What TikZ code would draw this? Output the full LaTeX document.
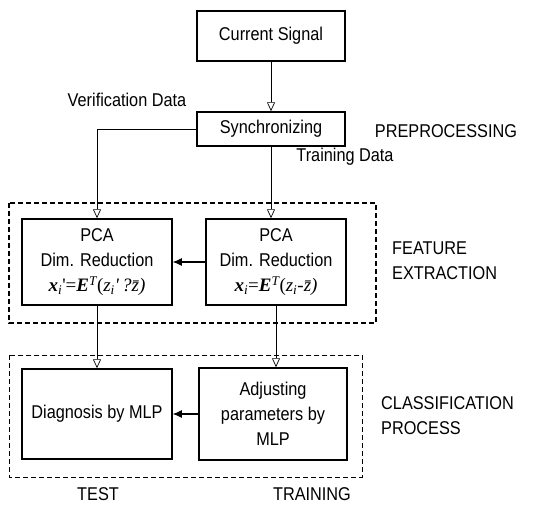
\documentclass[tikz,border=0pt]{standalone}
\usepackage{fontspec}
\setmainfont{Liberation Sans}[FakeStretch=0.88]
\newfontfamily\formfont{Liberation Serif}
\usetikzlibrary{
  arrows.meta,
  positioning,
  calc
}
\newcommand\diagfont{\fontsize{18.5}{25}\selectfont}
\newcommand\bv[1]{{\bfseries\itshape #1}}
\tikzset{
  proc box/.style={
    draw,
    line width=1.5pt,
    align=center,
    inner sep=2pt,
    font=\diagfont
  },
  stage frame/.style={
    draw,
    line width=1.3pt,
    dash pattern=on 5pt off 3pt
  },
  data flow/.style={
    line width=0.7pt,
    -{Triangle[open, length=9pt, width=8pt]}
  },
  pass arrow/.style={
    line width=1.1pt,
    -{Latex[length=9pt, width=8pt]}
  },
  side label/.style={
    font=\diagfont,
    inner sep=0pt
  }
}

\begin{document}
\begin{tikzpicture}[x=1pt, y=-1pt]
\useasboundingbox (0,0) rectangle (546,506);
\draw[stage frame] (9,203) rectangle (376,323);
\draw[stage frame, line width=1pt] (9,355) rectangle (362,477);
\node[proc box, minimum width=148pt, minimum height=50pt] (signal) at (271,36) {Current Signal};
\node[proc box, minimum width=148pt, minimum height=34pt] (sync) at (271,129) {Synchronizing};
\node[proc box, minimum width=150pt, minimum height=86pt] (pcatest) at (97,262)
  {PCA\\Dim. Reduction\\{\formfont\fontsize{19}{25}\selectfont\bv{x}\textsubscript{\itshape i}\textquotesingle=\bv{E}\textsuperscript{\itshape T}(\itshape z\textsubscript{i}\textquotesingle\,?\={z})}};
\node[proc box, minimum width=140pt, minimum height=86pt] (pcatrain) at (276,262)
  {PCA\\Dim. Reduction\\{\formfont\fontsize{19}{25}\selectfont\bv{x}\textsubscript{\itshape i}=\bv{E}\textsuperscript{\itshape T}(\itshape z\textsubscript{i}-\={z})}};
\node[proc box, minimum width=150pt, minimum height=90pt] (diag) at (97,414) {Diagnosis by MLP};
\node[proc box, minimum width=148pt, minimum height=92pt] (adjust) at (273,414) {Adjusting\\parameters by\\MLP};
% flows
\draw[data flow] (signal.south) -- (sync.north);
\draw[data flow] (sync.west) -| (pcatest.north);
\draw[data flow] (sync.south) -- (sync.south |- pcatrain.north);
\draw[data flow] (pcatest.south) -- (diag.north);
\draw[data flow] (pcatrain.south) -- (pcatrain.south |- adjust.north);
\draw[pass arrow] (pcatrain.west) -- (pcatest.east);
\draw[pass arrow] (adjust.west) -- (diag.east);
% labels
\node[side label] (verif) at (127,100) {Verification Data};
\node[side label] (train) at (345,157) {Training Data};
\node[side label] (prep) at (446,131) {PREPROCESSING};
\node[side label, anchor=west, align=left] (feat) at (392,261) {FEATURE\\EXTRACTION};
\node[side label, anchor=west, align=left] (cls) at (381,416) {CLASSIFICATION\\PROCESS};
\node[side label] (test) at (98,494) {TEST};
\node[side label] (trn) at (312,494) {TRAINING};
\end{tikzpicture}
\end{document}
